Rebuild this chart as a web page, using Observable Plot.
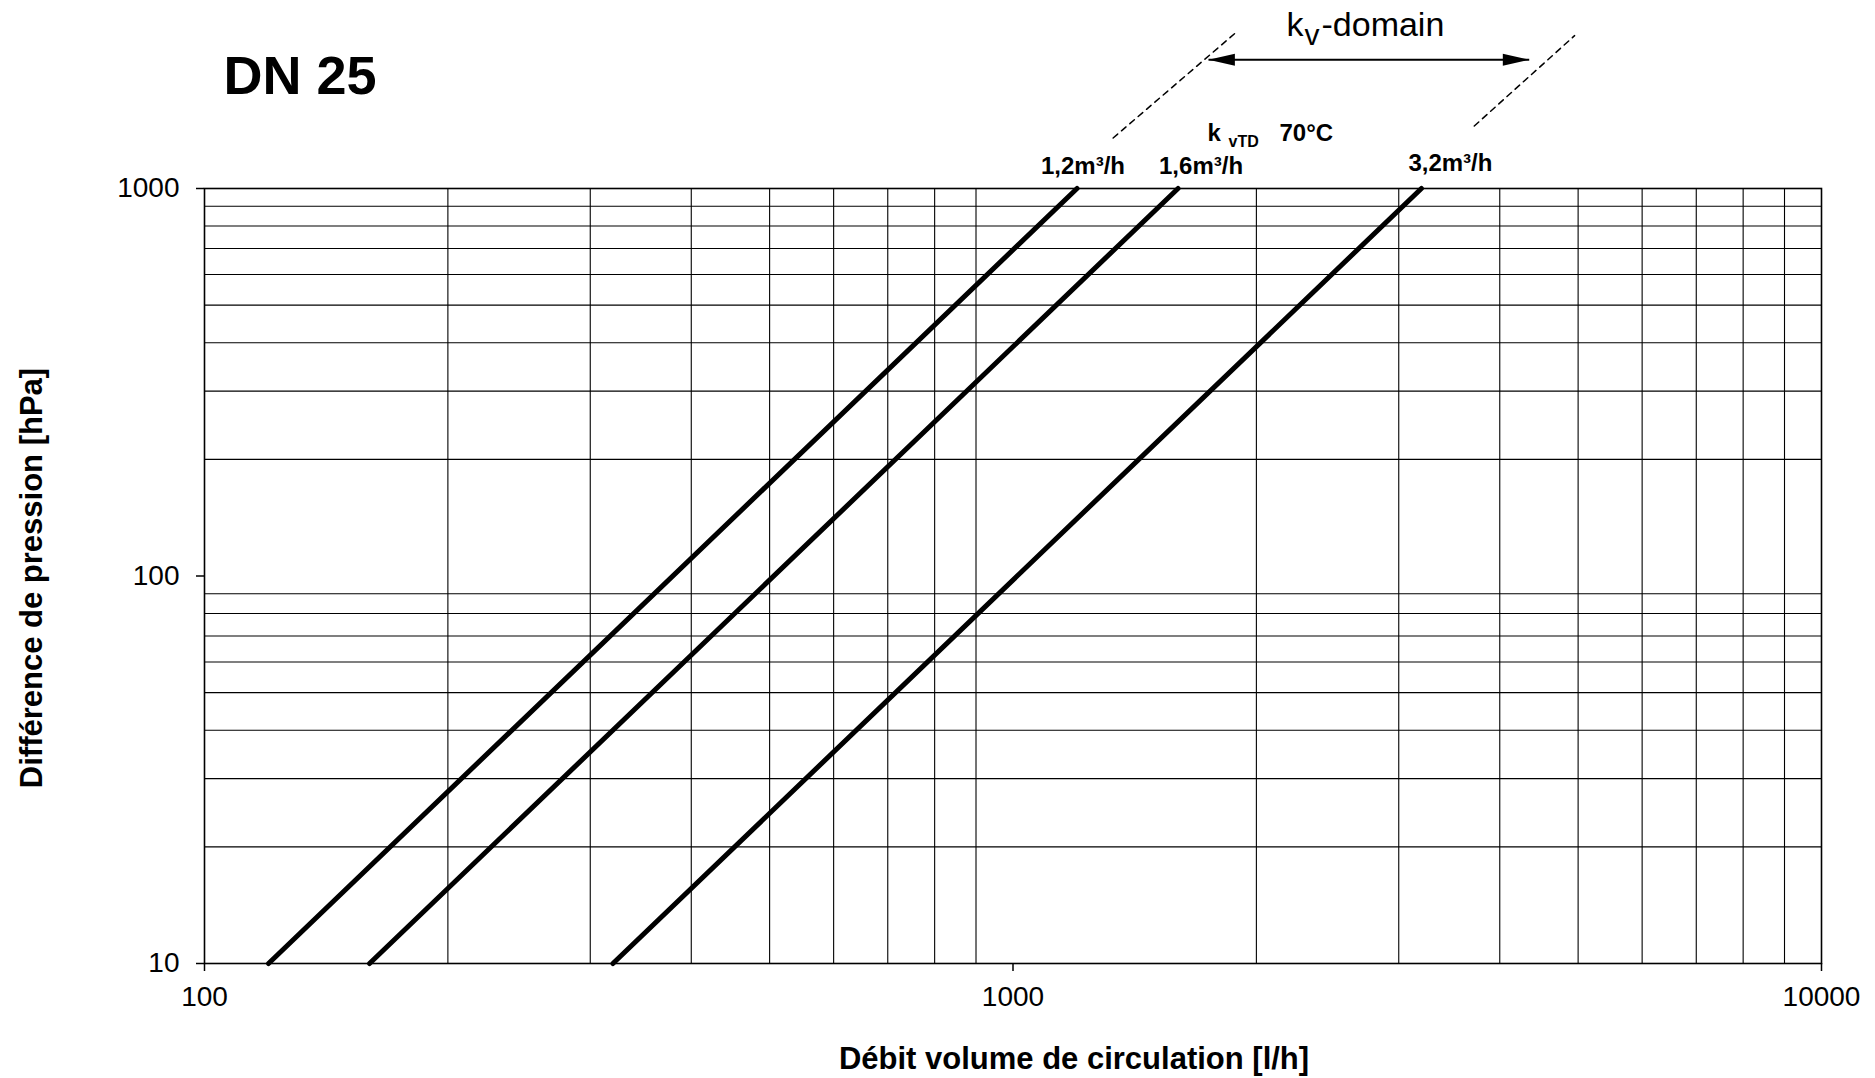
<!DOCTYPE html>
<html><head><meta charset="utf-8">
<script src="https://cdn.jsdelivr.net/npm/d3@7"></script>
<script src="https://cdn.jsdelivr.net/npm/@observablehq/plot@0.6"></script>
<style>
html,body{margin:0;padding:0;background:#fff;}
#chart svg{display:block;}
</style></head><body><div id="chart"></div>
<script>
// ---- data ----
const kvLabels = ["1,2m³/h", "1,6m³/h", "3,2m³/h"];
const flowAtLow = [120, 160, 320];       // l/h at 10 hPa
const flowAtHigh = [1200, 1600, 3200];   // l/h at 1000 hPa
const pressureLow = 10;
const pressureHigh = 1000;
const xTicks = [100, 1000, 10000];
const yTicks = [10, 100, 1000];
const xGrid = [200, 300, 400, 500, 600, 700, 800, 900, 2000, 3000, 4000, 5000, 6000, 7000, 8000, 9000];
const yGrid = [20, 30, 40, 50, 60, 70, 80, 90, 200, 300, 400, 500, 600, 700, 800, 900];
const titleText = "DN 25";
const xLabelText = "Débit volume de circulation [l/h]";
const yLabelText = "Différence de pression [hPa]";
// kv-domain annotation, in data units (flow l/h, pressure hPa)
const dashLeftQ = [1330, 1880];
const dashLeftP = [1350, 2510];
const dashRightQ = [3720, 4950];
const dashRightP = [1450, 2480];
const arrowQ = [1745, 4350];
const arrowP = 2150;

// ---- tables ----
const rows = kvLabels.flatMap((k, i) => [
  {kv: k, q: flowAtLow[i], dp: pressureLow},
  {kv: k, q: flowAtHigh[i], dp: pressureHigh}
]);
const dashes = [
  ...dashLeftQ.map((q, i) => ({g: "L", q, dp: dashLeftP[i]})),
  ...dashRightQ.map((q, i) => ({g: "R", q, dp: dashRightP[i]}))
];

// custom arrowhead symbols (tip at the point)
const headRight = {draw(ctx, size) { const r = Math.sqrt(size / Math.PI); ctx.moveTo(0, 0); ctx.lineTo(-2.2 * r, -0.5 * r); ctx.lineTo(-2.2 * r, 0.5 * r); ctx.closePath(); }};
const headLeft = {draw(ctx, size) { const r = Math.sqrt(size / Math.PI); ctx.moveTo(0, 0); ctx.lineTo(2.2 * r, -0.5 * r); ctx.lineTo(2.2 * r, 0.5 * r); ctx.closePath(); }};

const font = "'Liberation Sans', Arial, Helvetica, sans-serif";
const labelDx = [6, 23, 29];
const labelDy = [-15, -15, -18];

const marks = [
  Plot.ruleX(xGrid, {stroke: "#000", strokeWidth: 1.1}),
  Plot.ruleY(yGrid, {stroke: "#000", strokeWidth: 1.1}),
  Plot.frame({stroke: "#000", strokeWidth: 1.6}),
  Plot.axisX({ticks: xTicks, tickSize: 8, tickPadding: 15, tickFormat: d => String(d), fontSize: 28, strokeWidth: 1.5, label: null}),
  Plot.axisY({ticks: yTicks, tickSize: 8, tickPadding: 17, tickFormat: d => String(d), fontSize: 28, strokeWidth: 1.5, label: null}),
  Plot.line(rows, {x: "q", y: "dp", z: "kv", stroke: "#000", strokeWidth: 5, strokeLinecap: "round"}),
  Plot.line(dashes, {x: "q", y: "dp", z: "g", stroke: "#000", strokeWidth: 1.5, strokeDasharray: "6,5"}),
  Plot.link([0], {x1: () => arrowQ[0], x2: () => arrowQ[1], y1: () => arrowP, y2: () => arrowP, stroke: "#000", strokeWidth: 2}),
  Plot.dot([0], {x: () => arrowQ[1], y: () => arrowP, symbol: headRight, r: 12, fill: "#000", stroke: null}),
  Plot.dot([0], {x: () => arrowQ[0], y: () => arrowP, symbol: headLeft, r: 12, fill: "#000", stroke: null}),
  // title
  Plot.text([titleText], {frameAnchor: "top-left", dx: 19, dy: -95, text: d => d, textAnchor: "start", lineAnchor: "bottom", fontSize: 54, fontWeight: "bold"}),
  // kv-domain
  Plot.text(["k"], {frameAnchor: "top-left", dx: 1082, dy: -153, text: d => d, textAnchor: "start", lineAnchor: "bottom", fontSize: 34}),
  Plot.text(["v"], {frameAnchor: "top-left", dx: 1100, dy: -144, text: d => d, textAnchor: "start", lineAnchor: "bottom", fontSize: 30}),
  Plot.text(["-domain"], {frameAnchor: "top-left", dx: 1117, dy: -153, text: d => d, textAnchor: "start", lineAnchor: "bottom", fontSize: 34}),
  // k vTD 70°C
  Plot.text(["k"], {frameAnchor: "top-left", dx: 1003, dy: -48, text: d => d, textAnchor: "start", lineAnchor: "bottom", fontSize: 24, fontWeight: "bold"}),
  Plot.text(["vTD"], {frameAnchor: "top-left", dx: 1024, dy: -42, text: d => d, textAnchor: "start", lineAnchor: "bottom", fontSize: 16, fontWeight: "bold"}),
  Plot.text(["70°C"], {frameAnchor: "top-left", dx: 1075, dy: -48, text: d => d, textAnchor: "start", lineAnchor: "bottom", fontSize: 24, fontWeight: "bold"}),
  // curve labels
  ...kvLabels.map((k, i) => Plot.text([k], {x: () => flowAtHigh[i], y: () => pressureHigh, text: d => d, dx: labelDx[i], dy: labelDy[i], textAnchor: "middle", lineAnchor: "bottom", fontSize: 24, fontWeight: "bold"})),
  // axis titles
  Plot.text([xLabelText], {frameAnchor: "bottom", dx: 61, dy: 105, text: d => d, textAnchor: "middle", lineAnchor: "bottom", fontSize: 31, fontWeight: "bold"}),
  Plot.text([yLabelText], {frameAnchor: "left", dx: -172, dy: 2, rotate: -90, text: d => d, textAnchor: "middle", lineAnchor: "middle", fontSize: 31, fontWeight: "bold"})
];

const chart = Plot.plot({
  width: 1875,
  height: 1078,
  marginTop: 188,
  marginBottom: 115,
  marginLeft: 204,
  marginRight: 54,
  style: {fontFamily: font, color: "#000", background: "#fff", overflow: "visible"},
  x: {type: "log", domain: [100, 10000]},
  y: {type: "log", domain: [10, 1000]},
  marks
});
document.getElementById("chart").appendChild(chart);
</script>
</body></html>
